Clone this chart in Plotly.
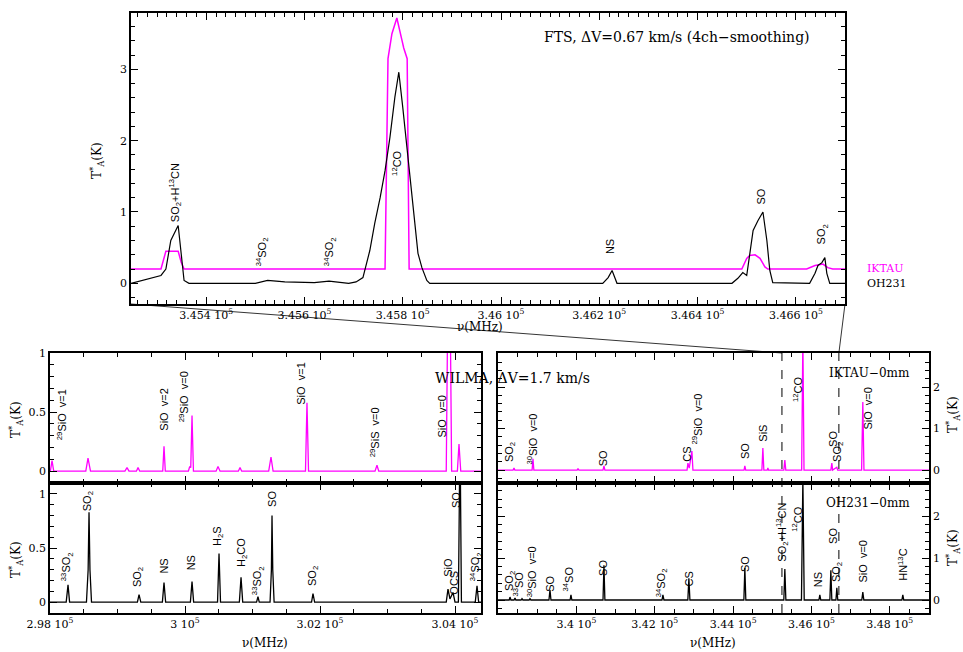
import plotly.graph_objects as go

W, H = 963, 652

# ---------------- data ----------------
# FTS panel, frequency range (MHz)
FTS_RANGE = [345247, 346700]

FTS_OH231_FREQ = [345247, 345288, 345308, 345318, 345328, 345343, 345349, 345355, 345365,
                  345500, 345525, 345560, 345620, 345650, 345690, 345705,
                  345719, 345733, 345743, 345754, 345764, 345774, 345784, 345792, 345800,
                  345811, 345821, 345831, 345839, 345849, 345855,
                  346207, 346218, 346226, 346236,
                  346470, 346482, 346492, 346500, 346506, 346513, 346523, 346533, 346541,
                  346547, 346553,
                  346628, 346639, 346645, 346653, 346659, 346663, 346669, 346700]
FTS_OH231_T = [0.0, 0.07, 0.11, 0.20, 0.60, 0.81, 0.46, 0.04, 0.0,
               0.0, 0.04, 0.02, 0.01, 0.03, 0.0, 0.02,
               0.08, 0.46, 0.84, 1.20, 1.58, 2.05, 2.61, 2.96, 2.47,
               1.72, 1.02, 0.42, 0.22, 0.04, 0.0,
               0.0, 0.08, 0.18, 0.0,
               0.0, 0.07, 0.15, 0.11, 0.37, 0.74, 0.88, 1.00, 0.60,
               0.18, 0.01,
               0.0, 0.14, 0.25, 0.29, 0.36, 0.14, 0.0, 0.0]

# IKTAU is plotted with its baseline shifted to 0.2 K
FTS_IKTAU_FREQ = [345247, 345308, 345318, 345343, 345349, 345355,
                  345764, 345770, 345778, 345788, 345798, 345802, 345809, 345813,
                  346490, 346500, 346506, 346517, 346527, 346537, 346543,
                  346622, 346639, 346655, 346665, 346675, 346700]
FTS_IKTAU_T = [0.2, 0.2, 0.45, 0.45, 0.30, 0.2,
               0.2, 3.15, 3.50, 3.72, 3.42, 3.30, 3.15, 0.2,
               0.2, 0.35, 0.39, 0.40, 0.35, 0.23, 0.2,
               0.2, 0.25, 0.27, 0.22, 0.2, 0.2]

# WILMA ranges
W_LEFT_RANGE = [298000, 304385]
W_RIGHT_RANGE = [338000, 349000]

IK_LEFT_FREQ = [298000, 298005, 298030, 298055,
                298530, 298563, 298600,
                299110, 299141, 299170,
                299280, 299304, 299330,
                299670, 299689, 299708,
                300050, 300070, 300085, 300104, 300125,
                300460, 300489, 300520,
                300790, 300815, 300840,
                301240, 301274, 301305,
                301785, 301807, 301830,
                302815, 302844, 302870,
                303870, 303911, 303950,
                304035, 304059, 304085, 304385]
IK_LEFT_T = [0.0, 0.0, 0.09, 0.0,
             0.0, 0.11, 0.0,
             0.0, 0.03, 0.0,
             0.0, 0.03, 0.0,
             0.0, 0.21, 0.0,
             0.0, 0.04, 0.03, 0.47, 0.0,
             0.0, 0.04, 0.0,
             0.0, 0.03, 0.0,
             0.0, 0.12, 0.0,
             0.0, 0.58, 0.0,
             0.0, 0.05, 0.0,
             0.0, 2.50, 0.0,
             0.0, 0.23, 0.0, 0.0]

OH_LEFT_FREQ = [298000, 298240, 298267, 298290,
                298540, 298565, 298578, 298592, 298615,
                299295, 299319, 299345,
                299665, 299689, 299713,
                300080, 300104, 300128,
                300482, 300504, 300526,
                300805, 300830, 300855,
                301060, 301081, 301100,
                301260, 301280, 301289, 301300, 301320,
                301875, 301896, 301920,
                303870, 303896, 303925, 303970, 304000,
                304050, 304074, 304095,
                304300, 304326, 304350, 304385]
OH_LEFT_T = [0.0, 0.0, 0.16, 0.0,
             0.0, 0.30, 0.83, 0.30, 0.0,
             0.0, 0.07, 0.0,
             0.0, 0.18, 0.0,
             0.0, 0.19, 0.0,
             0.0, 0.45, 0.0,
             0.0, 0.23, 0.0,
             0.0, 0.05, 0.0,
             0.0, 0.30, 0.80, 0.30, 0.0,
             0.0, 0.08, 0.0,
             0.0, 0.12, 0.03, 0.09, 0.0,
             0.0, 1.60, 0.0,
             0.0, 0.15, 0.0, 0.0]

IK_RIGHT_FREQ = [338000, 338385, 338408, 338430,
                 338870, 338893, 338915,
                 340020, 340041, 340065,
                 340680, 340704, 340728,
                 342825, 342847, 342880, 342949, 342975,
                 344280, 344300, 344322,
                 344735, 344760, 344785,
                 344870, 344888, 344905,
                 345295, 345321, 345345,
                 345750, 345781, 345810,
                 346495, 346520, 346540, 346648, 346670,
                 347280, 347311, 347340, 349000]
IK_RIGHT_T = [0.0, 0.0, 0.05, 0.0,
              0.0, 0.27, 0.0,
              0.0, 0.04, 0.0,
              0.0, 0.10, 0.0,
              0.0, 0.17, 0.05, 0.46, 0.0,
              0.0, 0.10, 0.0,
              0.0, 0.53, 0.0,
              0.0, 0.05, 0.0,
              0.0, 0.24, 0.0,
              0.0, 3.20, 0.0,
              0.0, 0.17, 0.0, 0.07, 0.0,
              0.0, 1.64, 0.0, 0.0]

OH_RIGHT_FREQ = [338000, 338285, 338306, 338330,
                 338410, 338434, 338455,
                 338590, 338612, 338635,
                 338795, 338816, 338840,
                 339300, 339327, 339352,
                 339840, 339862, 339885,
                 340680, 340704, 340728,
                 342185, 342209, 342235,
                 342845, 342872, 342898,
                 344275, 344300, 344325,
                 345295, 345321, 345347,
                 345745, 345781, 345815,
                 346190, 346214, 346238,
                 346470, 346495, 346520, 346625, 346648, 346672,
                 347285, 347311, 347337,
                 348308, 348332, 348356, 349000]
OH_RIGHT_T = [0.0, 0.0, 0.07, 0.0,
              0.0, 0.05, 0.0,
              0.0, 0.03, 0.0,
              0.0, 0.03, 0.0,
              0.0, 0.24, 0.0,
              0.0, 0.12, 0.0,
              0.0, 0.83, 0.0,
              0.0, 0.12, 0.0,
              0.0, 0.52, 0.0,
              0.0, 0.76, 0.0,
              0.0, 0.74, 0.0,
              0.0, 2.90, 0.0,
              0.0, 0.12, 0.0,
              0.0, 0.71, 0.0, 0.0, 0.29, 0.0,
              0.0, 0.19, 0.0,
              0.0, 0.12, 0.0, 0.0]

# line identifications: (label, frequency MHz, T of label base)
TOP_LABELS = [
    ("SO<sub>2</sub>+H<sup>13</sup>CN", 345337, 0.84),
    ("<sup>34</sup>SO<sub>2</sub>", 345514, 0.22),
    ("<sup>34</sup>SO<sub>2</sub>", 345652, 0.22),
    ("<sup>12</sup>CO", 345788, 1.49),
    ("NS", 346222, 0.39),
    ("SO", 346529, 1.09),
    ("SO<sub>2</sub>", 346653, 0.53),
]
IK_LEFT_LABELS = [
    ("<sup>29</sup>SiO\u00a0 v=1", 298178, 0.25),
    ("SiO\u00a0 v=2", 299689, 0.33),
    ("<sup>29</sup>SiO\u00a0 v=0", 299985, 0.41),
    ("SiO\u00a0 v=1", 301719, 0.55),
    ("<sup>29</sup>SiS\u00a0 v=0", 302815, 0.11),
    ("SiO\u00a0 v=0", 303807, 0.28),
]
OH_LEFT_LABELS = [
    ("<sup>33</sup>SO<sub>2</sub>", 298252, 0.18),
    ("SO<sub>2</sub>", 298563, 0.83),
    ("SO<sub>2</sub>", 299304, 0.13),
    ("NS", 299689, 0.25),
    ("NS", 300089, 0.28),
    ("H<sub>2</sub>S", 300489, 0.51),
    ("H<sub>2</sub>CO", 300844, 0.32),
    ("<sup>33</sup>SO<sub>2</sub>", 301081, 0.06),
    ("SO", 301289, 0.87),
    ("SO<sub>2</sub>", 301896, 0.14),
    ("SiO", 303896, 0.23),
    ("OCS", 303985, 0.06),
    ("SO", 304015, 0.86),
    ("<sup>34</sup>SO<sub>2</sub>", 304311, 0.18),
]
IK_RIGHT_LABELS = [
    ("SO<sub>2</sub>", 338306, 0.17),
    ("<sup>30</sup>SiO\u00a0 v=0", 338867, 0.12),
    ("SO", 340680, 0.07),
    ("CS", 342822, 0.19),
    ("<sup>29</sup>SiO\u00a0 v=0", 343076, 0.60),
    ("SO", 344300, 0.24),
    ("SiS", 344760, 0.67),
    ("<sup>12</sup>CO", 345653, 1.61),
    ("SO", 346546, 0.53),
    ("SO<sub>2</sub>", 346673, 0.17),
    ("SiO\u00a0 v=0", 347439, 0.96),
]
OH_RIGHT_LABELS = [
    ("SO<sub>2</sub>", 338306, 0.19),
    ("<sup>33</sup>SO", 338510, 0.07),
    ("<sup>30</sup>SiO\u00a0 v=0", 338867, 0.05),
    ("SO", 339327, 0.17),
    ("<sup>34</sup>SO", 339786, 0.19),
    ("SO", 340679, 0.55),
    ("<sup>34</sup>SO<sub>2</sub>", 342184, 0.05),
    ("CS", 342872, 0.31),
    ("SO", 344300, 0.64),
    ("SO<sub>2</sub>+H<sup>13</sup>CN", 345245, 0.90),
    ("<sup>12</sup>CO", 345628, 1.60),
    ("NS", 346188, 0.29),
    ("SO", 346546, 1.31),
    ("SO<sub>2</sub>", 346648, 0.40),
    ("SiO\u00a0 v=0", 347311, 0.40),
    ("HN<sup>13</sup>C", 348332, 0.43),
]

TOP_TICKS = [345400, 345600, 345800, 346000, 346200, 346400, 346600]
TOP_TICK_TEXT = ["3.454 10<sup>5</sup>", "3.456 10<sup>5</sup>", "3.458 10<sup>5</sup>",
                 "3.46 10<sup>5</sup>", "3.462 10<sup>5</sup>", "3.464 10<sup>5</sup>",
                 "3.466 10<sup>5</sup>"]
LEFT_TICKS = [298000, 300000, 302000, 304000]
LEFT_TICK_TEXT = ["2.98 10<sup>5</sup>", "3 10<sup>5</sup>", "3.02 10<sup>5</sup>", "3.04 10<sup>5</sup>"]
RIGHT_TICKS = [340000, 342000, 344000, 346000, 348000]
RIGHT_TICK_TEXT = ["3.4 10<sup>5</sup>", "3.42 10<sup>5</sup>", "3.44 10<sup>5</sup>",
                   "3.46 10<sup>5</sup>", "3.48 10<sup>5</sup>"]

# ---------------- styling / layout ----------------
MAGENTA = "#ff00ff"
SERIF = "DejaVu Serif"
TICK_FONT = dict(family=SERIF, size=11, color="black")
LABEL_FONT = dict(family="Liberation Sans", size=11, color="black")


def dx(p):
    return p / W


def dy(p):
    return 1 - p / H


TOP_DOM_X = [dx(131), dx(845)]
TOP_DOM_Y = [dy(304), dy(13)]
LEFT_DOM_X = [dx(50), dx(481)]
RIGHT_DOM_X = [dx(498), dx(929)]
UP_DOM_Y = [dy(483), dy(353)]
LOW_DOM_Y = [dy(613), dy(483)]


def ax(**kw):
    d = dict(showline=True, linecolor="black", linewidth=1.5, mirror="ticks",
             ticks="inside", ticklen=7, tickwidth=1, tickcolor="black", automargin=False,
             showgrid=False, zeroline=False, tickfont=TICK_FONT, fixedrange=True)
    d.update(kw)
    return d


def minor(dt, t0):
    return dict(ticks="inside", ticklen=4, tickwidth=1, tickcolor="black", dtick=dt, tick0=t0,
                showgrid=False)


fig = go.Figure()

fig.add_trace(go.Scatter(x=FTS_IKTAU_FREQ, y=FTS_IKTAU_T, mode="lines",
                         line=dict(color=MAGENTA, width=1.5), xaxis="x", yaxis="y"))
fig.add_trace(go.Scatter(x=FTS_OH231_FREQ, y=FTS_OH231_T, mode="lines",
                         line=dict(color="black", width=1.2), xaxis="x", yaxis="y"))
fig.add_trace(go.Scatter(x=IK_LEFT_FREQ, y=IK_LEFT_T, mode="lines",
                         line=dict(color=MAGENTA, width=1.3), xaxis="x2", yaxis="y2"))
fig.add_trace(go.Scatter(x=OH_LEFT_FREQ, y=OH_LEFT_T, mode="lines",
                         line=dict(color="black", width=1.3), xaxis="x3", yaxis="y3"))
fig.add_trace(go.Scatter(x=IK_RIGHT_FREQ, y=IK_RIGHT_T, mode="lines",
                         line=dict(color=MAGENTA, width=1.3), xaxis="x4", yaxis="y4"))
fig.add_trace(go.Scatter(x=OH_RIGHT_FREQ, y=OH_RIGHT_T, mode="lines",
                         line=dict(color="black", width=1.3), xaxis="x5", yaxis="y5"))

layout = dict(
    width=W, height=H, margin=dict(l=0, r=0, t=0, b=0, autoexpand=False),
    paper_bgcolor="white", plot_bgcolor="white", showlegend=False,
    xaxis=ax(domain=TOP_DOM_X, anchor="y", range=FTS_RANGE, tickvals=TOP_TICKS,
             ticktext=TOP_TICK_TEXT, minor=minor(20, 345400)),
    yaxis=ax(domain=TOP_DOM_Y, anchor="x", range=[-0.29, 3.79], tickvals=[0, 1, 2, 3],
             ticktext=["0", "1", "2", "3"], minor=minor(0.2, 0)),
    xaxis2=ax(domain=LEFT_DOM_X, anchor="y2", range=W_LEFT_RANGE, tickvals=LEFT_TICKS,
              showticklabels=False, minor=minor(500, 298000)),
    yaxis2=ax(domain=UP_DOM_Y, anchor="x2", range=[-0.1, 1.0], tickvals=[0, 0.5, 1],
              ticktext=["0", "0.5", "1"], minor=minor(0.1, 0)),
    xaxis3=ax(domain=LEFT_DOM_X, anchor="y3", range=W_LEFT_RANGE, tickvals=LEFT_TICKS,
              ticktext=LEFT_TICK_TEXT, minor=minor(500, 298000)),
    yaxis3=ax(domain=LOW_DOM_Y, anchor="x3", range=[-0.1, 1.1], tickvals=[0, 0.5, 1],
              ticktext=["0", "0.5", "1"], minor=minor(0.1, 0)),
    xaxis4=ax(domain=RIGHT_DOM_X, anchor="y4", range=W_RIGHT_RANGE, tickvals=RIGHT_TICKS,
              showticklabels=False, minor=minor(500, 338000)),
    yaxis4=ax(domain=UP_DOM_Y, anchor="x4", side="right", range=[-0.31, 2.82],
              tickvals=[0, 1, 2], ticktext=["0", "1", "2"], minor=minor(0.2, 0)),
    xaxis5=ax(domain=RIGHT_DOM_X, anchor="y5", range=W_RIGHT_RANGE, tickvals=RIGHT_TICKS,
              ticktext=RIGHT_TICK_TEXT, minor=minor(500, 338000)),
    yaxis5=ax(domain=LOW_DOM_Y, anchor="x5", side="right", range=[-0.31, 2.79],
              tickvals=[0, 1, 2], ticktext=["0", "1", "2"], minor=minor(0.2, 0)),
)

annotations = []


def add_labels(labels, xref, yref):
    for text, f, t in labels:
        annotations.append(dict(text=text, x=f, y=t, xref=xref, yref=yref, textangle=-90,
                                xanchor="center", yanchor="bottom", showarrow=False,
                                font=LABEL_FONT, borderpad=0))


add_labels(TOP_LABELS, "x", "y")
add_labels(IK_LEFT_LABELS, "x2", "y2")
add_labels(OH_LEFT_LABELS, "x3", "y3")
add_labels(IK_RIGHT_LABELS, "x4", "y4")
add_labels(OH_RIGHT_LABELS, "x5", "y5")


def paper_text(text, x, y, xanchor="center", size=12, color="black", angle=0):
    annotations.append(dict(text=text, x=dx(x), y=dy(y), xref="paper", yref="paper",
                            xanchor=xanchor, yanchor="middle", showarrow=False,
                            textangle=angle, font=dict(family=SERIF, size=size, color=color)))


paper_text("FTS, \u0394V=0.67 km/s (4ch\u2212smoothing)", 812, 37, xanchor="right", size=14)
paper_text("WILMA, \u0394V=1.7 km/s", 433, 378, xanchor="left", size=14)
paper_text("IKTAU\u22120mm", 912, 373, xanchor="right", size=12)
paper_text("OH231\u22120mm", 912, 503, xanchor="right", size=12)
paper_text("IKTAU", 865, 268, xanchor="left", size=11, color=MAGENTA)
paper_text("OH231", 865, 283, xanchor="left", size=11)
paper_text("\u03bd(MHz)", 480, 327, size=12)
paper_text("\u03bd(MHz)", 265, 643, size=12)
paper_text("\u03bd(MHz)", 713, 643, size=12)
YT = "T<sup>*</sup><sub>A</sub>(K)"
paper_text(YT, 97, 161, size=12, angle=-90)
paper_text(YT, 16, 420, size=12, angle=-90)
paper_text(YT, 16, 560, size=12, angle=-90)
paper_text(YT, 953, 415, size=12, angle=-90)
paper_text(YT, 953, 548, size=12, angle=-90)

layout["annotations"] = annotations


def right_px(f):
    r0, r1 = W_RIGHT_RANGE
    return RIGHT_DOM_X[0] + (f - r0) / (r1 - r0) * (RIGHT_DOM_X[1] - RIGHT_DOM_X[0])


shapes = []
for f in FTS_RANGE:
    shapes.append(dict(type="line", xref="x4", yref="paper", x0=f, x1=f,
                       y0=LOW_DOM_Y[0], y1=UP_DOM_Y[1],
                       line=dict(color="black", width=1, dash="dash")))
shapes.append(dict(type="line", xref="paper", yref="paper", x0=TOP_DOM_X[0], y0=TOP_DOM_Y[0],
                   x1=right_px(FTS_RANGE[0]), y1=UP_DOM_Y[1], line=dict(color="black", width=0.8)))
shapes.append(dict(type="line", xref="paper", yref="paper", x0=TOP_DOM_X[1], y0=TOP_DOM_Y[0],
                   x1=right_px(FTS_RANGE[1]), y1=UP_DOM_Y[1], line=dict(color="black", width=0.8)))
layout["shapes"] = shapes

fig.update_layout(**layout)
fig.write_html("out.html", config={"displayModeBar": False},
               post_script="document.body.style.margin='0px';")
